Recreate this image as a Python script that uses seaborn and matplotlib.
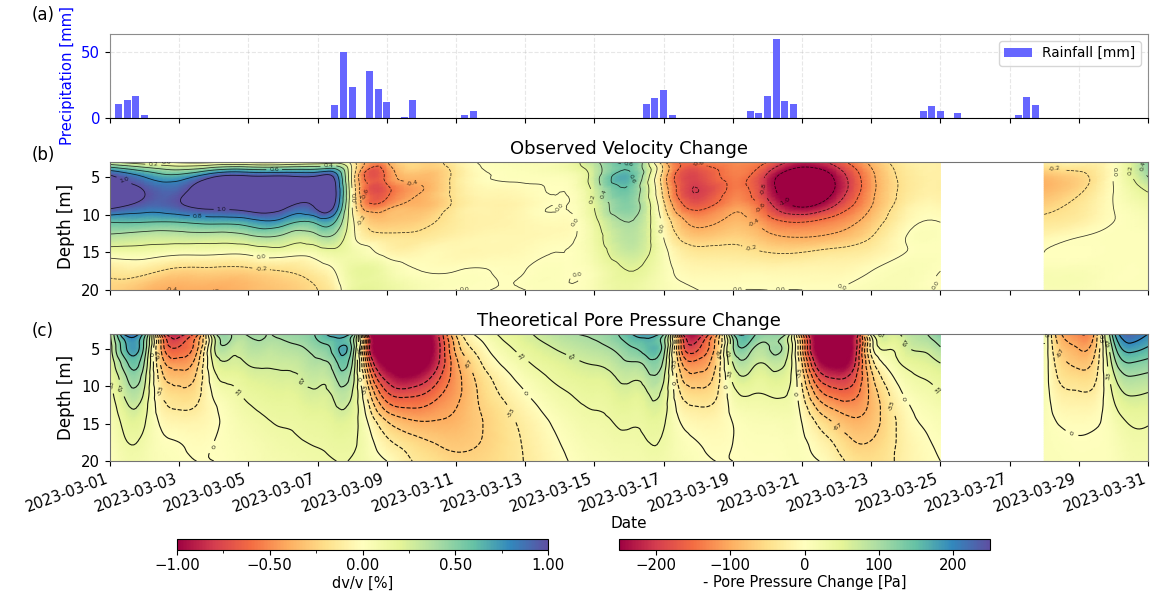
import numpy as np
import matplotlib
matplotlib.use("Agg")
import matplotlib.pyplot as plt
import matplotlib.tri as mtri
import seaborn as sns
from matplotlib.colors import Normalize
from matplotlib.ticker import FixedLocator, FuncFormatter

# ---------------- data ----------------
date_labels = ["2023-03-01", "2023-03-03", "2023-03-05", "2023-03-07", "2023-03-09",
               "2023-03-11", "2023-03-13", "2023-03-15", "2023-03-17", "2023-03-19",
               "2023-03-21", "2023-03-23", "2023-03-25", "2023-03-27", "2023-03-29",
               "2023-03-31"]

# rainfall, time in days after 2023-03-01 00:00 (6-hourly totals)
rain_day = [0.25, 0.5, 0.75, 1.0,
            6.5, 6.75, 7.0, 7.5, 7.75, 8.0, 8.5, 8.75, 10.25, 10.5,
            15.5, 15.75, 16.0, 16.25,
            18.5, 18.75, 19.0, 19.25, 19.5, 19.75,
            23.5, 23.75, 24.0, 24.5,
            26.25, 26.5, 26.75]
rain_mm = [11, 14, 17, 2,
           10, 50, 24, 36, 22, 12, 1, 14, 2, 5,
           11, 15, 21, 2,
           5, 4, 17, 60, 13, 11,
           5, 9, 5, 4,
           2, 16, 10]

depth_m = [3, 5, 7, 9, 11, 13, 15, 17.5, 20]

# observed dv/v [%]; one row per time, values at depth_m
vel_day = [0, 1, 2, 3, 4, 5, 6, 6.5, 7, 8, 9, 10, 11, 12, 13, 14, 15, 16, 17, 18,
           19, 20, 21, 22, 23, 24, 27, 28, 29, 30]
vel_dvv = [
    [0.20, 1.05, 1.15, 1.05, 0.60, 0.35, 0.10, -0.15, -0.25],
    [0.05, 0.80, 1.00, 0.90, 0.60, 0.30, 0.10, -0.15, -0.35],
    [-0.05, 0.70, 0.95, 0.95, 0.60, 0.30, 0.05, -0.25, -0.40],
    [-0.05, 1.00, 1.20, 1.05, 0.65, 0.30, 0.05, -0.25, -0.40],
    [-0.05, 1.05, 1.25, 1.10, 0.70, 0.35, 0.05, -0.25, -0.35],
    [-0.05, 1.05, 1.25, 1.05, 0.70, 0.35, 0.10, -0.20, -0.30],
    [0.05, 1.05, 1.15, 1.05, 0.65, 0.35, 0.10, -0.10, -0.20],
    [0.10, 0.95, 1.05, 0.95, 0.60, 0.35, 0.15, 0.00, -0.10],
    [-0.10, -0.05, 0.00, 0.00, 0.05, 0.05, 0.10, 0.15, 0.15],
    [-0.40, -0.55, -0.65, -0.45, -0.30, -0.15, -0.05, 0.10, 0.15],
    [-0.25, -0.35, -0.40, -0.35, -0.25, -0.15, -0.05, 0.00, 0.05],
    [-0.10, -0.15, -0.15, -0.15, -0.12, -0.08, -0.05, 0.00, 0.00],
    [0.02, 0.00, -0.05, -0.08, -0.08, -0.05, -0.05, 0.00, 0.00],
    [0.05, 0.02, -0.03, -0.05, -0.05, -0.05, -0.03, 0.00, 0.00],
    [0.05, 0.03, 0.00, 0.00, -0.03, -0.03, 0.00, 0.02, 0.02],
    [0.35, 0.30, 0.25, 0.20, 0.15, 0.12, 0.10, 0.05, 0.05],
    [0.65, 0.65, 0.55, 0.50, 0.40, 0.35, 0.30, 0.20, 0.15],
    [-0.35, -0.30, -0.25, -0.15, -0.05, 0.00, 0.05, 0.05, 0.05],
    [-0.55, -0.75, -0.80, -0.65, -0.45, -0.30, -0.15, -0.05, 0.00],
    [-0.50, -0.55, -0.55, -0.45, -0.35, -0.25, -0.15, -0.05, 0.00],
    [-0.60, -0.85, -0.85, -0.70, -0.50, -0.35, -0.20, -0.05, 0.00],
    [-0.90, -1.20, -1.20, -1.00, -0.60, -0.40, -0.20, -0.05, 0.00],
    [-0.70, -0.95, -0.95, -0.75, -0.50, -0.35, -0.15, -0.05, 0.00],
    [-0.35, -0.45, -0.45, -0.40, -0.30, -0.20, -0.10, 0.00, 0.05],
    [-0.10, -0.15, -0.15, -0.10, -0.05, 0.00, 0.00, 0.05, 0.05],
    [-0.10, -0.10, -0.10, -0.05, 0.00, 0.02, 0.02, 0.00, 0.00],
    [-0.10, -0.35, -0.35, -0.25, -0.15, -0.05, 0.00, 0.05, 0.05],
    [-0.05, -0.25, -0.22, -0.15, -0.10, 0.00, 0.00, 0.05, 0.05],
    [0.00, 0.00, 0.00, 0.00, 0.00, 0.02, 0.02, 0.02, 0.02],
    [0.50, 0.40, 0.20, 0.10, 0.05, 0.02, 0.02, 0.02, 0.02],
]

# theoretical (negative) pore pressure change [Pa]; one row per half day
pp_day = [0.0, 0.5, 1.0, 1.5, 2.0, 2.5, 3.0, 3.5, 4.0, 4.5, 5.0, 5.5, 6.0, 6.5,
          7.0, 7.5, 8.0, 8.5, 9.0, 9.5, 10.0, 10.5, 11.0, 11.5, 12.0, 12.5,
          13.0, 13.5, 14.0, 14.5, 15.0, 15.5, 16.0, 16.5, 17.0, 17.5, 18.0,
          18.5, 19.0, 19.5, 20.0, 20.5, 21.0, 21.5, 22.0, 22.5, 23.0, 23.5, 24.0,
          27.0, 27.5, 28.0, 28.5, 29.0, 29.5, 30.0]
pp_pa = [
    [60, 50, 40, 30, 22, 15, 10, 5, 0],
    [220, 170, 130, 100, 80, 60, 45, 33, 25],
    [150, 120, 95, 75, 60, 45, 35, 25, 20],
    [-150, -110, -80, -55, -35, -20, -5, 5, 10],
    [-220, -160, -115, -80, -55, -35, -15, 0, 5],
    [-150, -110, -80, -60, -45, -30, -15, -5, 0],
    [80, 60, 40, 20, 5, -5, -5, 0, 0],
    [100, 80, 60, 40, 25, 15, 10, 8, 5],
    [105, 85, 68, 52, 40, 30, 22, 15, 12],
    [100, 85, 70, 57, 47, 38, 30, 22, 18],
    [110, 88, 72, 60, 50, 42, 35, 28, 22],
    [115, 95, 78, 65, 55, 46, 38, 32, 26],
    [140, 115, 92, 75, 62, 52, 42, 35, 30],
    [185, 150, 120, 95, 75, 62, 50, 40, 33],
    [150, 125, 100, 82, 66, 55, 45, 38, 32],
    [-250, -200, -150, -100, -60, -30, -5, 10, 18],
    [-300, -290, -260, -210, -160, -110, -60, -25, 0],
    [-320, -310, -290, -240, -180, -130, -85, -45, -25],
    [-300, -300, -270, -220, -170, -130, -95, -60, -40],
    [-200, -210, -200, -170, -140, -115, -95, -70, -50],
    [-60, -90, -110, -115, -110, -100, -90, -75, -60],
    [0, -30, -55, -70, -75, -75, -75, -70, -60],
    [25, 5, -15, -35, -45, -55, -60, -60, -55],
    [45, 28, 10, -8, -22, -35, -42, -45, -45],
    [60, 45, 28, 12, -2, -15, -25, -30, -32],
    [75, 58, 42, 28, 15, 3, -8, -15, -20],
    [90, 70, 52, 40, 28, 18, 8, 0, -5],
    [100, 80, 62, 48, 37, 28, 20, 12, 5],
    [105, 88, 68, 52, 42, 34, 27, 20, 14],
    [120, 100, 78, 60, 48, 40, 32, 25, 18],
    [160, 125, 95, 72, 56, 45, 36, 28, 22],
    [185, 150, 110, 82, 62, 50, 40, 32, 25],
    [140, 115, 90, 70, 55, 45, 36, 30, 25],
    [-180, -130, -90, -60, -35, -15, 0, 10, 15],
    [-230, -170, -120, -85, -55, -30, -12, 0, 5],
    [-120, -90, -70, -55, -40, -25, -12, -5, 0],
    [130, 95, 65, 40, 20, 8, 0, 0, 0],
    [150, 110, 80, 55, 35, 20, 10, 5, 3],
    [120, 95, 70, 50, 35, 22, 12, 6, 3],
    [110, 90, 68, 50, 36, 25, 15, 8, 5],
    [-120, -90, -65, -42, -25, -10, 0, 5, 8],
    [-300, -280, -230, -170, -120, -75, -40, -15, 0],
    [-320, -300, -260, -200, -150, -105, -70, -40, -20],
    [-250, -230, -210, -175, -145, -115, -90, -65, -45],
    [20, -20, -55, -80, -90, -90, -80, -65, -50],
    [60, 35, 10, -15, -35, -45, -50, -45, -40],
    [80, 60, 40, 20, 5, -8, -15, -20, -20],
    [95, 72, 50, 33, 20, 10, 2, -5, -8],
    [130, 95, 65, 45, 32, 20, 12, 5, 0],
    [40, 30, 25, 20, 18, 15, 12, 10, 10],
    [-100, -75, -55, -40, -25, -12, -2, 5, 8],
    [-130, -100, -75, -50, -30, -15, -5, 2, 5],
    [-80, -65, -48, -35, -22, -10, -2, 3, 5],
    [150, 110, 80, 55, 38, 25, 15, 10, 8],
    [230, 180, 130, 95, 70, 50, 35, 25, 20],
    [200, 160, 120, 88, 65, 48, 35, 25, 20],
]

# ---------------- figure ----------------
W, H = 1153, 594
fig = plt.figure(figsize=(W / 100, H / 100), dpi=100)


def box(l, r, t, b):
    return [l / W, 1 - b / H, (r - l) / W, (b - t) / H]


ax_a = fig.add_axes(box(110, 1148, 34, 118))
ax_b = fig.add_axes(box(110, 1148, 162, 290))
ax_c = fig.add_axes(box(110, 1148, 334, 461))
cax1 = fig.add_axes(box(177, 548, 539, 550))
cax2 = fig.add_axes(box(619, 990, 539, 550))

TICK_FS = 10.7
tick_days = [int(s[-2:]) - 1 for s in date_labels]
cmap = plt.get_cmap("Spectral")

# ---- (a) rainfall ----
sns.barplot(x=rain_day, y=rain_mm, native_scale=True, color=(0.4, 0.4, 1.0),
            saturation=1, errorbar=None, width=0.8, ax=ax_a)
ax_a.set_xlim(0, 30)
ax_a.set_ylim(0, 64)
ax_a.set_yticks([0, 50])
ax_a.set_ylabel("Precipitation [mm]", color="blue", fontsize=10.7)
ax_a.yaxis.set_label_coords(-0.034, 0.5)
ax_a.tick_params(axis="y", labelcolor="blue", labelsize=TICK_FS)
ax_a.grid(True, linestyle="--", alpha=0.3)
ax_a.set_axisbelow(True)
ax_a.legend([ax_a.patches[0]], ["Rainfall [mm]"], loc="upper right", fontsize=9.8)
for s in ["top", "right", "left"]:
    ax_a.spines[s].set_color("0.55")


def grid_triangles(nt, nz):
    tris = []
    for i in range(nz - 1):
        for j in range(nt - 1):
            a = i * nt + j
            tris.append([a, a + 1, a + nt])
            tris.append([a + 1, a + nt + 1, a + nt])
    return np.array(tris)


def draw_field(ax, times, values, norm, levels, label_levels, fmt, lw, alpha):
    t = np.asarray(times, float)
    z = np.asarray(depth_m, float)
    v = np.asarray(values, float).T
    breaks = np.where(np.diff(t) > 1.0)[0] + 1
    mesh = None
    for idx in np.split(np.arange(t.size), breaks):
        T, Z = np.meshgrid(t[idx], z)
        V = v[:, idx]
        tri = mtri.Triangulation(T.ravel(), Z.ravel(), grid_triangles(len(idx), len(z)))
        refiner = mtri.UniformTriRefiner(tri)
        tri_f, v_f = refiner.refine_field(V.ravel(), subdiv=3)
        mesh = ax.tripcolor(tri_f, v_f, shading="gouraud", cmap=cmap, norm=norm,
                            rasterized=True)
        cs = ax.tricontour(tri_f, v_f, levels=levels, colors="k", linewidths=lw,
                           alpha=alpha)
        ax.clabel(cs, levels=label_levels, fmt=fmt, fontsize=4.5, inline=True)
    return mesh


norm_b = Normalize(-1, 1)
lev_b = np.round(np.arange(-5, 6) * 0.2, 2)
mesh_b = draw_field(ax_b, vel_day, vel_dvv, norm_b, lev_b, lev_b, "%.1f", 0.6, 0.75)

norm_c = Normalize(-250, 250)
lev_c = np.round(np.arange(-6, 7) * 100 / 3, 4)
lab_c = [l for l in lev_c if abs(l) <= 101 and round(l) % 2 == 1 or l == 0]
mesh_c = draw_field(ax_c, pp_day, pp_pa, norm_c, lev_c, lab_c, "%.0f", 0.8, 0.9)

for ax, title in [(ax_b, "Observed Velocity Change"),
                  (ax_c, "Theoretical Pore Pressure Change")]:
    ax.set_xlim(0, 30)
    ax.set_ylim(20, 3)
    ax.set_yticks([5, 10, 15, 20])
    ax.set_title(title, fontsize=13)
    ax.set_ylabel("Depth [m]", fontsize=12)
    ax.yaxis.set_label_coords(-0.034, 0.5)
    ax.tick_params(axis="y", labelsize=TICK_FS)
    for s in ax.spines.values():
        s.set_color("0.45")

for ax in (ax_a, ax_b, ax_c):
    ax.set_xticks(tick_days)
for ax in (ax_a, ax_b):
    ax.tick_params(axis="x", labelbottom=False)
ax_c.set_xticklabels(date_labels, rotation=20, ha="right", fontsize=TICK_FS)
ax_c.set_xlabel("Date", fontsize=11, labelpad=1)

# ---- colorbars ----
cb1 = fig.colorbar(mesh_b, cax=cax1, orientation="horizontal")
cb1.set_ticks([-1, -0.5, 0, 0.5, 1])
cb1.ax.xaxis.set_major_formatter(FuncFormatter(lambda x, p: f"{x:.2f}".replace("-", "\u2212")))
cb1.ax.xaxis.set_minor_locator(FixedLocator([-0.75, -0.25, 0.25, 0.75]))
cb1.set_label("dv/v [%]", fontsize=10.5, labelpad=2)
cb1.ax.tick_params(labelsize=TICK_FS, pad=2)

cb2 = fig.colorbar(mesh_c, cax=cax2, orientation="horizontal")
cb2.set_ticks([-200, -100, 0, 100, 200])
cb2.set_label("- Pore Pressure Change [Pa]", fontsize=10.5, labelpad=2)
cb2.ax.tick_params(labelsize=TICK_FS, pad=2)

for lbl, y in [("(a)", 15), ("(b)", 155), ("(c)", 331)]:
    fig.text(32 / W, 1 - y / H, lbl, fontsize=12, va="center", ha="left")

fig.savefig("out.png", dpi=100)
